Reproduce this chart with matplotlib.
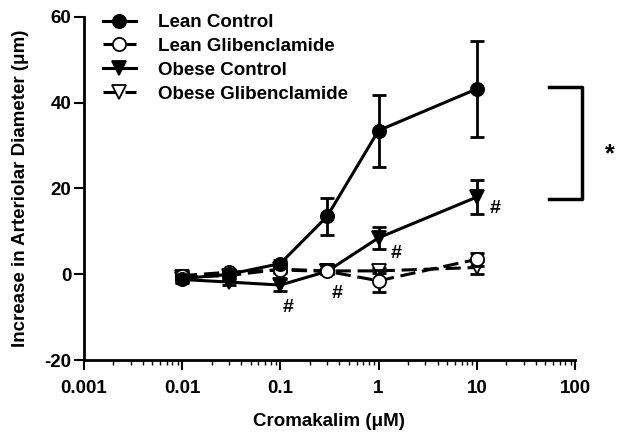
import matplotlib
matplotlib.use("Agg")
import matplotlib.pyplot as plt

plt.rcParams["font.family"] = ["Liberation Sans", "DejaVu Sans"]
plt.rcParams["font.weight"] = "bold"
plt.rcParams["axes.unicode_minus"] = False

# Cromakalim concentrations (uM)
conc = [0.01, 0.03, 0.1, 0.3, 1, 10]

lean_ctrl = [-1.0, 0.0, 2.5, 13.5, 33.5, 43.2]
lean_ctrl_err = [0.8, 0.6, 0.8, 4.3, 8.4, 11.2]

lean_glib = [-0.3, 0.5, 1.0, 0.7, -1.5, 3.5]
lean_glib_err = [0.8, 0.6, 0.8, 0.6, 2.6, 1.5]

obese_ctrl = [-1.2, -1.8, -2.5, 0.7, 8.5, 18.0]
obese_ctrl_err = [0.8, 0.8, 1.5, 0.6, 2.5, 4.0]

obese_glib = [-0.6, -0.3, 1.2, 0.8, 0.8, 1.6]
obese_glib_err = [0.6, 0.6, 0.6, 0.5, 0.6, 1.5]

series = [
    ("Lean Control", lean_ctrl, lean_ctrl_err, "o", "black", "-"),
    ("Lean Glibenclamide", lean_glib, lean_glib_err, "o", "white", (0, (5, 2.2))),
    ("Obese Control", obese_ctrl, obese_ctrl_err, "v", "black", "-"),
    ("Obese Glibenclamide", obese_glib, obese_glib_err, "v", "white", (0, (5, 2.2))),
]

# "#" markers: (x, y)
hash_pos = [(0.12, -7.7), (0.38, -4.4), (1.5, 4.8), (15.5, 15.4)]

# bracket between control groups at 10 uM
bracket_x = [54, 117]
bracket_y = [43.7, 17.5]

fig = plt.figure(figsize=(6.25, 4.43), dpi=100)
ax = fig.add_axes([0.134, 0.187, 0.786, 0.775])

handles = []
for i, (name, y, err, mk, fc, ls) in enumerate(series):
    z = 10 - i
    ax.errorbar(conc, y, yerr=err, fmt="none", ecolor="black", elinewidth=2,
                capsize=5, capthick=2, zorder=z)
    ln, = ax.plot(conc, y, ls=ls, color="black", lw=2.2, marker=mk, ms=9.5,
                  mfc=fc, mec="black", mew=1.3, label=name, zorder=z)
    handles.append(ln)

for hx, hy in hash_pos:
    ax.text(hx, hy, "#", ha="center", va="center", fontsize=14, fontweight="bold")

ax.set_xscale("log")
ax.set_xlim(0.001, 100)
ax.set_ylim(-20, 60)
ax.set_yticks([-20, 0, 20, 40, 60])
ax.set_xticks([0.001, 0.01, 0.1, 1, 10, 100])
ax.set_xticklabels(["0.001", "0.01", "0.1", "1", "10", "100"])

for s in ["top", "right"]:
    ax.spines[s].set_visible(False)
for s in ["left", "bottom"]:
    ax.spines[s].set_linewidth(2)

ax.tick_params(axis="both", which="major", length=7, width=1.5, labelsize=13.5)
ax.tick_params(axis="x", which="minor", length=3.5, width=1)
ax.tick_params(axis="y", pad=2)
ax.tick_params(axis="x", pad=7)

ax.set_xlabel("Cromakalim (\u03bcM)", fontsize=13.5, fontweight="bold", labelpad=12)
ax.set_ylabel("Increase in Arteriolar Diameter (\u03bcm)", fontsize=13.5,
              fontweight="bold", labelpad=11)

ax.legend(handles=handles, loc="upper left", bbox_to_anchor=(0.024, 1.03),
          frameon=False, fontsize=13.5, handlelength=1.75, handletextpad=1.2,
          labelspacing=0.36, borderaxespad=0)

x0, x1 = bracket_x
ytop, ybot = bracket_y
ax.plot([x0, x1, x1, x0], [ytop, ytop, ybot, ybot], color="black",
        lw=2.5, clip_on=False)
ax.text(228, 28.0, "*", ha="center", va="center", fontsize=18,
        fontweight="bold", clip_on=False)

fig.savefig("out.png", dpi=100)
